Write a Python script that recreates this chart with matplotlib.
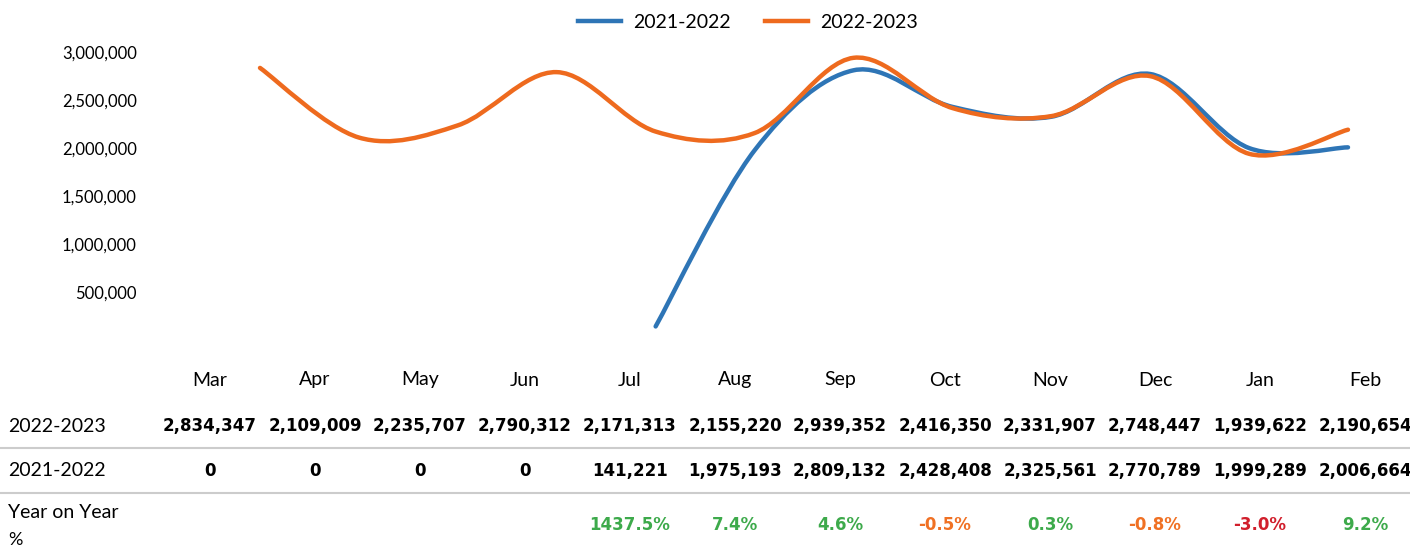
import numpy as np
import matplotlib.pyplot as plt
from matplotlib.path import Path
from matplotlib.patches import PathPatch
from matplotlib.lines import Line2D
from matplotlib.transforms import blended_transform_factory

# data
months = ['Mar', 'Apr', 'May', 'Jun', 'Jul', 'Aug', 'Sep', 'Oct', 'Nov', 'Dec', 'Jan', 'Feb']
s2223 = [2834347, 2109009, 2235707, 2790312, 2171313, 2155220, 2939352, 2416350, 2331907, 2748447, 1939622, 2190654]
s2122 = [0, 0, 0, 0, 141221, 1975193, 2809132, 2428408, 2325561, 2770789, 1999289, 2006664]
yoy = [None, None, None, None, 1437.5, 7.4, 4.6, -0.5, 0.3, -0.8, -3.0, 9.2]
yticks = [500000, 1000000, 1500000, 2000000, 2500000, 3000000]

BLUE = '#2E75B6'
ORANGE = '#EE6A1E'
GREEN = '#3DAA4B'
RED = '#D11F2C'
TXT_ORANGE = '#F07124'

W, H = 1410, 548
fig = plt.figure(figsize=(W / 100, H / 100), dpi=100)
rect = [157.5 / W, 1 - 340 / H, 1260 / W, 300 / H]

# chart axes: the plotted points sit a bit inside the table columns
ax = fig.add_axes(rect)
k = (1348 - 260) / 11
x0 = -(260 - 157.5) / k
ax.set_xlim(x0, x0 + 1260 / k)
ax.set_ylim(0, 3125000)
for s in ax.spines.values():
    s.set_visible(False)
ax.set_xticks([])
ax.set_yticks(yticks)
ax.set_yticklabels([f'{v:,}' for v in yticks], fontfamily='Lato', fontsize=12)
ax.tick_params(axis='y', length=0, pad=15)

# invisible axes for the table columns
tab = fig.add_axes(rect, frameon=False)
tab.set_xlim(-0.5, 11.5)
tab.set_xticks([])
tab.set_yticks([])
tab.patch.set_alpha(0)


def smooth_path(xs, ys):
    # catmull-rom style bezier through the points (like excel smoothed line)
    pts = np.column_stack([xs, ys]).astype(float)
    verts = [pts[0]]
    codes = [Path.MOVETO]
    n = len(pts)
    for i in range(n - 1):
        p0 = pts[max(i - 1, 0)]
        p1 = pts[i]
        p2 = pts[i + 1]
        p3 = pts[min(i + 2, n - 1)]
        c1 = p1 + (p2 - p0) / 6
        c2 = p2 - (p3 - p1) / 6
        verts += [c1, c2, p2]
        codes += [Path.CURVE4] * 3
    return Path(verts, codes)


x = np.arange(len(months))
start = next(i for i, v in enumerate(s2122) if v > 0)
for xs, ys, c in [(x[start:], s2122[start:], BLUE), (x, s2223, ORANGE)]:
    ax.add_patch(PathPatch(smooth_path(xs, ys), facecolor='none', edgecolor=c,
                           lw=3.2, capstyle='round', joinstyle='round'))

handles = [Line2D([], [], color=BLUE, lw=3.2), Line2D([], [], color=ORANGE, lw=3.2)]
fig.legend(handles, ['2021-2022', '2022-2023'], loc='center', bbox_to_anchor=(748 / W, 1 - 22 / H),
           ncol=2, frameon=False, prop={'family': 'Lato', 'size': 14},
           handlelength=2.2, columnspacing=1.8, handletextpad=0.6)

# table under the chart
tr = blended_transform_factory(tab.transData, fig.transFigure)
fy = lambda py: 1 - py / H
bold = dict(fontfamily='DejaVu Sans', fontweight='bold', fontsize=12)

for i, m in enumerate(months):
    fig.text(i, fy(380), m, transform=tr, ha='center', va='center', fontfamily='Lato', fontsize=14)
    fig.text(i, fy(426), f'{s2223[i]:,}', transform=tr, ha='center', va='center', **bold)
    fig.text(i, fy(471), f'{s2122[i]:,}', transform=tr, ha='center', va='center', **bold)
    if yoy[i] is not None:
        v = yoy[i]
        col = GREEN if v >= 0 else (TXT_ORANGE if v > -1 else RED)
        fig.text(i, fy(525), f'{v:.1f}%', transform=tr, ha='center', va='center', color=col, **bold)

fig.text(8 / W, fy(426), '2022-2023', ha='left', va='center', fontfamily='Lato', fontsize=14)
fig.text(8 / W, fy(471), '2021-2022', ha='left', va='center', fontfamily='Lato', fontsize=14)
fig.text(8 / W, fy(513), 'Year on Year', ha='left', va='center', fontfamily='Lato', fontsize=14)
fig.text(8 / W, fy(540), '%', ha='left', va='center', fontfamily='Lato', fontsize=13)

for py in [448, 493]:
    fig.add_artist(Line2D([0, 1], [fy(py), fy(py)], color='#CCCCCC', lw=1.5, transform=fig.transFigure))

fig.savefig('out.png', dpi=100)
